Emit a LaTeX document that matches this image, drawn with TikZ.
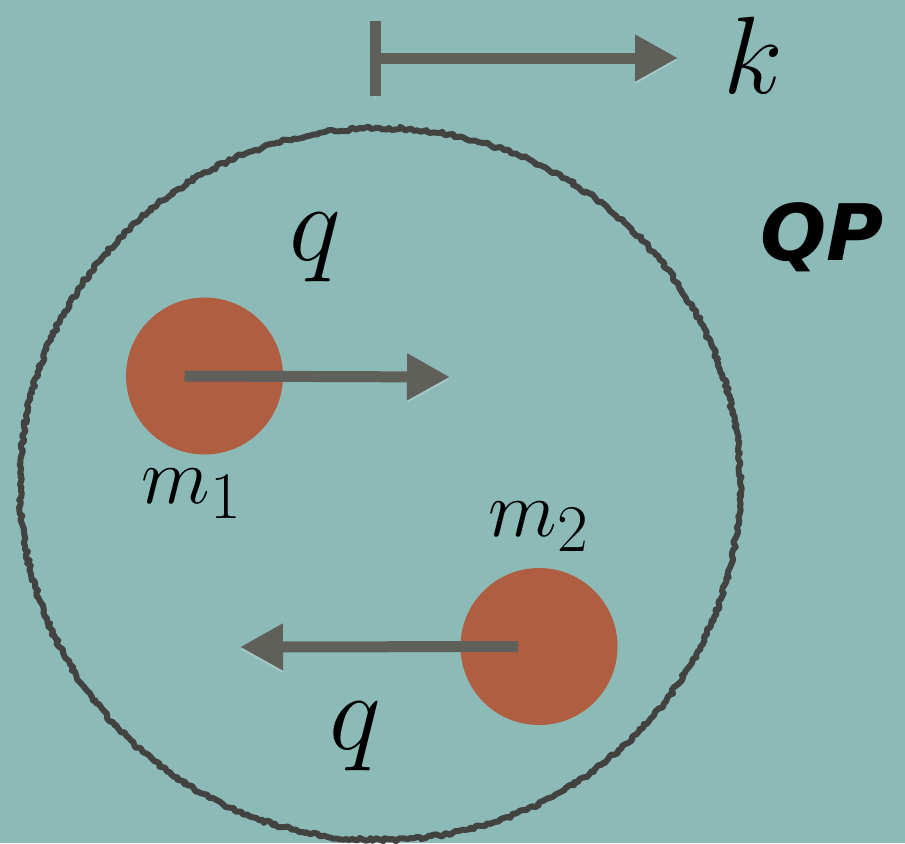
\documentclass[tikz,border=0pt]{standalone}
\usepackage{graphicx}
\usepackage{fontspec}
\newfontfamily\qpfont{DejaVu Sans}
\usetikzlibrary{arrows.meta,decorations.pathmorphing}
\definecolor{sea}{RGB}{140,186,183}
\definecolor{brick}{RGB}{176,94,66}
\definecolor{slate}{RGB}{96,96,91}
\definecolor{rimgray}{RGB}{66,66,64}
\newcommand{\bigsym}[1]{\scalebox{2.21}{\Huge$#1$}}
\newcommand{\masssym}[1]{\scalebox{1.608}{\Huge$#1$}}

\begin{document}
\begin{tikzpicture}[x=0.5pt, y=-0.5pt,
  disk/.style={circle, fill=brick, minimum size=78.5pt, inner sep=0pt},
  push/.style={draw=slate, line width=5.5pt, -{Triangle[length=21.5pt,width=22pt]},
    preaction={draw=white, draw opacity=0.22, transform canvas={yshift=-1.2pt}}},
  sym/.style={inner sep=0pt},
  rimline/.style={draw=rimgray, line width=3pt, line join=round, decorate,
    decoration={random steps, segment length=1.5pt, amplitude=0.9pt}}]
\fill[sea] (0,0) rectangle (905,843);
\useasboundingbox (0,0) rectangle (905,843);

% the bound pair
\draw[rimline] (380,484) ellipse [x radius=180pt, y radius=178pt];

\node[disk] (m1) at (204.5,376) {};
\node[disk] (m2) at (539,646.5) {};
\coordinate (tip1) at (450,377);
\coordinate (tip2) at (240,647);
\coordinate (kstart) at (370,58);
\coordinate (ktip) at (678,58);

\node[sym] (k) at (753,55) {\bigsym{k}};
\node[sym] (q1) at (315,248) {\bigsym{q}};
\node[sym] (q2) at (355,736) {\bigsym{q}};
\node[sym] (l1) at (192,494) {\masssym{m_1}};
\node[sym] (l2) at (539,527) {\masssym{m_2}};
\node[sym, font=\qpfont\bfseries\itshape\fontsize{39}{44}\selectfont] (qp) at (822,237) {QP};

\draw[push] ([xshift=-10pt]m1.center) -- (tip1);
\draw[push] ([xshift=-10.5pt]m2.center) -- (tip2);
\draw[push, {Bar[width=37.5pt]}-{Triangle[length=21.5pt,width=22pt]}] (kstart) -- (ktip);
\end{tikzpicture}
\end{document}
